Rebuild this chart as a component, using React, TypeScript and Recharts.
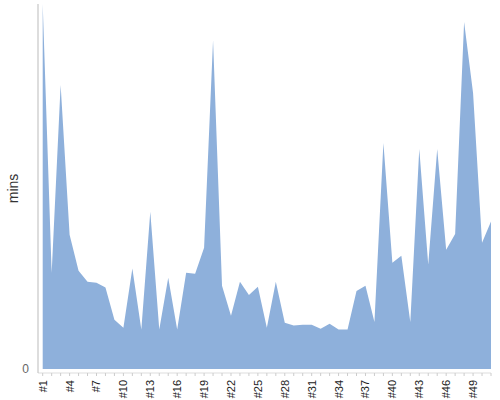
import { Area, AreaChart, XAxis, YAxis } from "recharts";

const runs = [
  "#1", "#2", "#3", "#4", "#5", "#6", "#7", "#8", "#9", "#10",
  "#11", "#12", "#13", "#14", "#15", "#16", "#17", "#18", "#19", "#20",
  "#21", "#22", "#23", "#24", "#25", "#26", "#27", "#28", "#29", "#30",
  "#31", "#32", "#33", "#34", "#35", "#36", "#37", "#38", "#39", "#40",
  "#41", "#42", "#43", "#44", "#45", "#46", "#47", "#48", "#49", "#50",
  "#51",
];

const mins = [
  100, 26.4, 77.8, 36.8, 26.9, 23.9, 23.6, 22.3, 13.5, 11.3,
  27.5, 10.8, 43.1, 10.8, 25.0, 10.8, 26.4, 26.1, 33.2, 90.1,
  22.8, 14.6, 23.9, 20.3, 22.5, 11.3, 23.9, 12.7, 11.9, 12.1,
  12.1, 11.0, 12.4, 10.8, 10.8, 21.4, 22.8, 12.9, 61.9, 29.1,
  31.0, 12.9, 60.3, 28.6, 60.3, 32.7, 37.0, 95.1, 75.6, 34.6,
  40.4,
];

const yTicks = [0];

const data = runs.map((run, i) => ({ run, mins: mins[i] }));

function RunTick(props: any) {
  const { x, y, payload, index } = props;
  if (index % 3 !== 0) return null;
  return (
    <g transform={`translate(${x},${y})`}>
      <text
        x={0}
        y={0}
        dy={4}
        textAnchor="end"
        transform="rotate(-90)"
        fontSize={11}
        fill="#222"
        fontFamily="Liberation Sans, Arial, sans-serif"
      >
        {payload.value}
      </text>
    </g>
  );
}

export default function App() {
  return (
    <div style={{ position: "absolute", left: 0, top: 0, width: 500, height: 400, background: "#fff" }}>
      <AreaChart width={500} height={400} data={data} margin={{ top: 4, right: 9, bottom: 5, left: 8 }}>
        <XAxis
          dataKey="run"
          interval={0}
          padding={{ left: 4.7, right: 0 }}
          axisLine={{ stroke: "#ddd" }}
          tickLine={{ stroke: "#ccc" }}
          tickSize={3}
          tickMargin={4}
          height={22}
          tick={<RunTick />}
        />
        <YAxis
          width={30}
          domain={[-1.1, 100]}
          ticks={yTicks}
          allowDataOverflow
          axisLine={{ stroke: "#bbb" }}
          tickLine={false}
          tickMargin={3}
          tick={{ fill: "#666", fontSize: 12, fontFamily: "Liberation Sans, Arial, sans-serif" }}
          label={{
            value: "mins",
            angle: -90,
            position: "insideLeft",
            offset: 5,
            style: { textAnchor: "middle", fill: "#333", fontSize: 14, fontFamily: "Liberation Sans, Arial, sans-serif" },
          }}
        />
        <Area
          type="linear"
          dataKey="mins"
          stroke="none"
          fill="#8eb0db"
          fillOpacity={1}
          isAnimationActive={false}
        />
      </AreaChart>
    </div>
  );
}
